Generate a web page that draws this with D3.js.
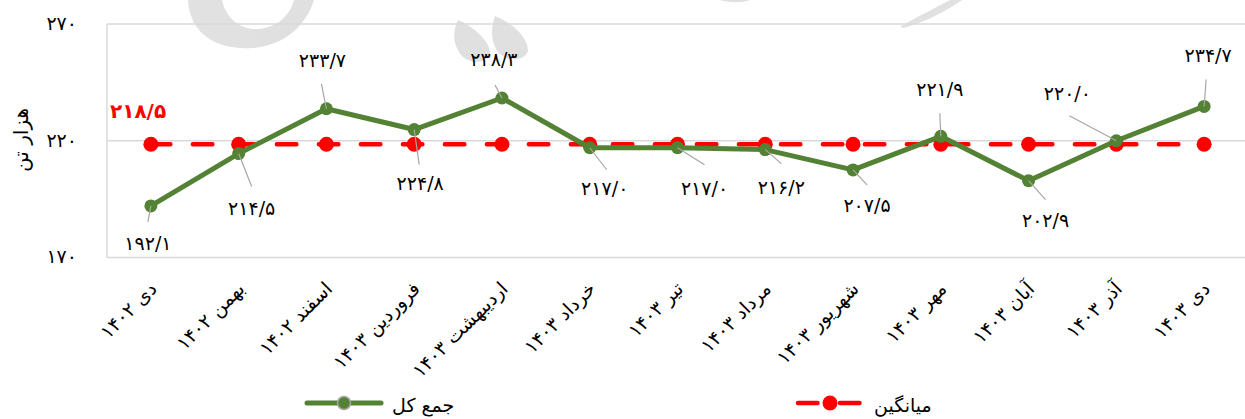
<!DOCTYPE html>
<html>
<head>
<meta charset="utf-8">
<script src="https://cdn.jsdelivr.net/npm/d3@7"></script>
<style>
  html, body { margin: 0; padding: 0; background: #ffffff; }
  svg { display: block; font-family: "DejaVu Sans", sans-serif; }
</style>
</head>
<body>
<svg id="chart" width="1245" height="419"></svg>
<script>
// ---- data ----
const categories = [
  "دی ۱۴۰۲", "بهمن ۱۴۰۲", "اسفند ۱۴۰۲", "فروردین ۱۴۰۳", "اردیبهشت ۱۴۰۳",
  "خرداد ۱۴۰۳", "تیر ۱۴۰۳", "مرداد ۱۴۰۳", "شهریور ۱۴۰۳", "مهر ۱۴۰۳",
  "آبان ۱۴۰۳", "آذر ۱۴۰۳", "دی ۱۴۰۳"
];
const totalValues = [192.1, 214.5, 233.7, 224.8, 238.3, 217.0, 217.0, 216.2, 207.5, 221.9, 202.9, 220.0, 234.7];
const averageValues = [218.5, 218.5, 218.5, 218.5, 218.5, 218.5, 218.5, 218.5, 218.5, 218.5, 218.5, 218.5, 218.5];
const averageLabelValue = 218.5;
const yTicks = [170, 220, 270];
const yTitle = "هزار تن";
const seriesNames = ["جمع کل", "میانگین"];

// data-label placement (pixel offsets from each point): [labelDx, labelDy, leaderDx, leaderDy]
const labelOffsets = [
  [-3, 37, -3, 16], [13, 55, 13, 33], [-4, -49, -5, -25], [6, 54, 5, 35],
  [-8, -39, -7, -13], [15, 40, 17, 22], [27, 40, 27, 17], [16, 38, 16, 14],
  [14, 35, 14, 15], [-1, -47, -1, -23], [17, 39, 17, 19], [-49, -48, -47, -25],
  [4, -51, 2, -27]
];

// ---- helpers ----
const faDigits = "۰۱۲۳۴۵۶۷۸۹";
const toFa = s => String(s).replace(/[0-9]/g, d => faDigits[+d]);
const fmt1 = v => toFa(d3.format(".1f")(v).replace(".", "/"));

// ---- layout ----
const svg = d3.select("#chart");
const GREEN = "#548235", RED = "#ff0000", GRID = "#d9d9d9", LEADER = "#a6a6a6";

const x = d3.scaleBand().domain(categories).range([107, 1248]);
const cx = c => x(c) + x.bandwidth() / 2;
const y = d3.scaleLinear().domain([170, 270]).range([257.5, 24]);

// watermark (decorative, faint)
const wm = svg.append("g").attr("fill", "#d9d9d9").attr("opacity", 0.8);
wm.append("path").attr("fill-rule", "evenodd")
  .attr("d", "M188,0 C190,38 222,50 252,48 C284,46 306,26 314,0 Z M222,0 C226,18 240,30 258,29 C276,28 290,16 294,0 Z");
wm.append("path").attr("d", "M458,20 C472,26 490,40 490,54 C487,64 470,64 462,56 C453,46 452,32 458,20 Z");
wm.append("path").attr("d", "M495,16 C510,22 528,36 528,51 C525,61 508,62 500,54 C491,44 490,30 495,16 Z");
wm.append("path").attr("d", "M900,27 C915,18 935,8 950,0 L962,0 C945,12 925,22 904,28 Z");
wm.append("path").attr("d", "M720,0 C730,3 742,3 750,0 Z");

// gridlines
svg.append("g").selectAll("line").data(yTicks).join("line")
  .attr("x1", 107).attr("x2", 1245)
  .attr("y1", d => y(d)).attr("y2", d => y(d))
  .attr("stroke", GRID).attr("stroke-width", 1.5);
// vertical axis line
svg.append("line").attr("x1", 107).attr("x2", 107)
  .attr("y1", y(270)).attr("y2", y(170))
  .attr("stroke", GRID).attr("stroke-width", 1.5);

// y tick labels
svg.append("g").selectAll("text").data(yTicks).join("text")
  .attr("x", 77).attr("y", d => y(d) - 1).attr("dy", "0.36em")
  .attr("text-anchor", "end").attr("font-size", 19).attr("fill", "#000")
  .text(d => toFa(d));

// y title
svg.append("text")
  .attr("transform", "translate(21,140) rotate(-90)")
  .attr("text-anchor", "middle").attr("dy", "0.36em")
  .attr("font-size", 20).attr("fill", "#000")
  .text(yTitle);

// x labels
svg.append("g").selectAll("text").data(categories).join("text")
  .attr("transform", c => `translate(${cx(c) + 7},290) rotate(-45)`)
  .attr("text-anchor", "end").attr("font-size", 19).attr("fill", "#000")
  .text(c => c);

// average series
const avgData = categories.map((c, i) => ({ c, v: averageValues[i] }));
svg.append("path").datum(avgData)
  .attr("d", d3.line().x(d => cx(d.c)).y(d => y(d.v)))
  .attr("fill", "none").attr("stroke", RED).attr("stroke-width", 4.5)
  .attr("stroke-linecap", "round").attr("stroke-dasharray", "19.5,22.5");
svg.append("g").selectAll("circle").data(avgData).join("circle")
  .attr("cx", d => cx(d.c)).attr("cy", d => y(d.v)).attr("r", 7.5).attr("fill", RED);

// average value label
svg.append("text").attr("x", 110).attr("y", y(averageLabelValue) - 33).attr("dy", "0.36em")
  .attr("font-size", 20).attr("font-weight", "bold").attr("fill", RED)
  .text(fmt1(averageLabelValue));

// total series
const totData = categories.map((c, i) => ({ c, v: totalValues[i], o: labelOffsets[i] }));
svg.append("path").datum(totData)
  .attr("d", d3.line().x(d => cx(d.c)).y(d => y(d.v)))
  .attr("fill", "none").attr("stroke", GREEN).attr("stroke-width", 5)
  .attr("stroke-linejoin", "round");
svg.append("g").selectAll("circle").data(totData).join("circle")
  .attr("cx", d => cx(d.c)).attr("cy", d => y(d.v)).attr("r", 6.5).attr("fill", GREEN);

// leader lines
svg.append("g").selectAll("line").data(totData).join("line")
  .attr("x1", d => cx(d.c)).attr("y1", d => y(d.v))
  .attr("x2", d => cx(d.c) + d.o[2]).attr("y2", d => y(d.v) + d.o[3])
  .attr("stroke", LEADER).attr("stroke-width", 1.2);

// data labels
svg.append("g").selectAll("text").data(totData).join("text")
  .attr("x", d => cx(d.c) + d.o[0]).attr("y", d => y(d.v) + d.o[1]).attr("dy", "0.36em")
  .attr("text-anchor", "middle").attr("font-size", 19).attr("fill", "#000")
  .attr("direction", "ltr")
  .text(d => fmt1(d.v));

// legend
const lg = svg.append("g");
lg.append("line").attr("x1", 307).attr("x2", 381).attr("y1", 403).attr("y2", 403)
  .attr("stroke", GREEN).attr("stroke-width", 5).attr("stroke-linecap", "round");
lg.append("circle").attr("cx", 344).attr("cy", 403).attr("r", 6.5)
  .attr("fill", GREEN).attr("stroke", "#a6a6a6").attr("stroke-width", 1.5);
lg.append("text").attr("x", 392).attr("y", 405).attr("dy", "0.36em")
  .attr("font-size", 19).attr("fill", "#000").text(seriesNames[0]);

lg.append("line").attr("x1", 798).attr("x2", 860).attr("y1", 403).attr("y2", 403)
  .attr("stroke", RED).attr("stroke-width", 4.5).attr("stroke-linecap", "round")
  .attr("stroke-dasharray", "19.5,22.5");
lg.append("circle").attr("cx", 830).attr("cy", 403).attr("r", 7.5).attr("fill", RED);
lg.append("text").attr("x", 874).attr("y", 405).attr("dy", "0.36em")
  .attr("font-size", 19).attr("fill", "#000").text(seriesNames[1]);
</script>
</body>
</html>
